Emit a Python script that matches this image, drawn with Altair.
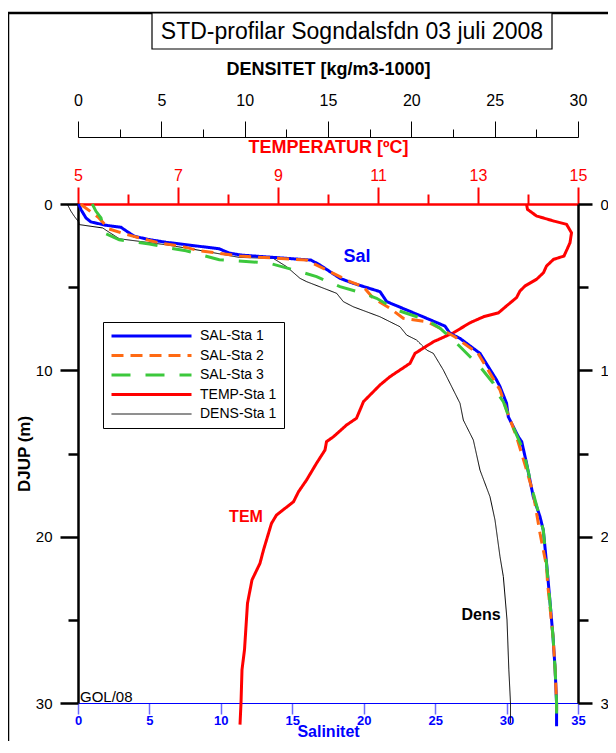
import altair as alt
import pandas as pd

FONT = "Liberation Sans"

# ---------------- data ----------------
SERIES = ["SAL-Sta 1", "SAL-Sta 2", "SAL-Sta 3", "TEMP-Sta 1", "DENS-Sta 1"]
COLORS = ["#0000ff", "#ff6a13", "#3cc83c", "#ff0000", "#000000"]
DASHES = [[1, 0], [12, 7], [19, 15], [1, 0], [1, 0]]
WIDTHS = [3, 3, 3, 3, 1]

sal_ticks = [0, 5, 10, 15, 20, 25, 30, 35]
temp_major = [5, 7, 9, 11, 13, 15]
temp_minor = [6, 8, 10, 12, 14]
dens_major = [0, 5, 10, 15, 20, 25, 30]
dens_minor = [2.5, 7.5, 12.5, 17.5, 22.5, 27.5]
depth_major = [0, 10, 20, 30]
depth_minor = [5, 15, 25]

sal1_depth = [0.0, 0.34, 0.84, 1.08, 1.28, 1.4, 1.54, 1.94, 2.14, 2.3, 2.69, 2.95, 3.07, 3.37, 3.67,
              4.47, 4.77, 5.27, 5.87, 6.37, 6.87, 7.34, 7.78, 8.08, 8.98, 10.58, 10.98, 11.98, 12.79,
              13.39, 13.99, 14.29, 15.59, 17.6, 18.8, 19.6, 21.6, 24.0, 26.0, 28.0, 30.0, 31.4]
sal1_value = [0.05, 0.21, 0.56, 0.91, 1.96, 3.01, 3.24, 3.94, 4.99, 6.16, 9.88, 10.58, 11.4, 16.3, 16.94,
              18.34, 19.27, 21.14, 21.61, 23.0, 24.4, 25.69, 26.04, 26.74, 28.14, 29.3, 29.54, 30.0, 30.12,
              30.47, 30.82, 31.06, 31.4, 31.87, 32.34, 32.57, 32.8, 33.05, 33.25, 33.4, 33.5, 33.5]

sal2_depth = [0.0, 0.12, 0.78, 1.5, 1.79, 2.09, 2.35, 2.53, 2.81, 3.13, 3.37, 4.17, 4.67, 4.97, 5.67,
              6.27, 6.87, 7.07, 7.47, 8.0, 8.98, 11.18, 12.39, 13.99, 16.0, 17.4, 19.8, 21.8, 22.8,
              26.0, 28.0, 30.0, 30.5]
sal2_value = [0.2, 0.35, 1.4, 2.17, 3.22, 4.55, 5.74, 7.21, 8.47, 11.34, 16.0, 17.87, 19.04, 19.97, 20.67,
              21.84, 22.77, 24.4, 25.34, 26.4, 28.0, 29.54, 30.0, 30.7, 31.4, 31.87, 32.34, 32.8, 32.87,
              33.25, 33.4, 33.5, 33.5]

sal3_depth = [0.0, 0.44, 0.84, 1.74, 2.15, 2.4, 2.65, 2.81, 3.08, 3.35, 3.45, 3.57, 4.07, 4.37, 4.97,
              5.37, 5.67, 6.37, 6.97, 7.47, 8.38, 9.78, 10.78, 11.18, 11.88, 12.99, 14.79, 17.4, 19.6,
              22.6, 26.0, 28.0, 30.0, 31.4]
sal3_value = [1.0, 1.26, 1.61, 1.84, 2.89, 5.0, 6.39, 7.56, 8.73, 9.89, 11.76, 13.44, 15.54, 16.7, 18.34,
              19.97, 20.9, 22.3, 24.4, 25.34, 26.51, 28.14, 29.07, 29.2, 29.77, 30.24, 31.17, 31.87, 32.57,
              32.9, 33.25, 33.4, 33.5, 33.5]

temp_depth = [0.0, 0.32, 0.72, 1.02, 1.22, 1.73, 2.33, 3.13, 3.33, 3.73, 4.13, 4.53, 4.93, 5.23, 5.63,
              6.13, 6.54, 6.78, 7.14, 7.74, 8.28, 8.98, 9.58, 10.38, 10.88, 11.88, 12.88, 13.29, 13.99,
              14.29, 14.79, 15.59, 16.6, 17.3, 17.9, 18.7, 19.2, 20.8, 21.6, 22.6, 24.0, 26.8, 28.0,
              30.0, 31.3]
temp_value = [13.97, 13.99, 14.17, 14.51, 14.77, 14.87, 14.84, 14.72, 14.51, 14.37, 14.31, 14.17, 13.94,
              13.84, 13.77, 13.57, 13.41, 13.11, 12.84, 12.51, 12.11, 11.74, 11.64, 11.24, 11.04, 10.71,
              10.57, 10.37, 10.11, 9.97, 9.94, 9.77, 9.57, 9.41, 9.31, 8.97, 8.87, 8.71, 8.64, 8.48, 8.39,
              8.33, 8.28, 8.26, 8.24]

dens_depth = [0.0, 0.44, 0.74, 1.08, 1.24, 1.44, 1.64, 2.09, 2.45, 2.85, 3.21, 3.27, 3.77, 4.47, 4.67,
              5.37, 5.87, 6.18, 6.78, 7.38, 7.88, 8.18, 8.78, 8.98, 9.98, 11.18, 11.98, 12.99, 14.19,
              16.0, 17.6, 19.0, 21.2, 22.4, 25.0, 28.0, 30.0, 31.2]
dens_value = [-0.65, -0.42, -0.22, 0.04, 0.08, 1.48, 1.78, 2.48, 5.28, 7.68, 9.68, 11.72, 12.52, 13.32,
              13.72, 15.52, 15.92, 16.52, 18.12, 19.32, 19.72, 20.32, 20.92, 21.32, 21.92, 22.52, 22.92,
              23.12, 23.72, 24.12, 24.72, 25.02, 25.32, 25.52, 25.74, 25.85, 25.95, 25.95]


def long(name, depth, value):
    return pd.DataFrame({"series": name, "depth": depth, "value": value})


sal_df = pd.concat([long(SERIES[0], sal1_depth, sal1_value),
                    long(SERIES[1], sal2_depth, sal2_value),
                    long(SERIES[2], sal3_depth, sal3_value)], ignore_index=True)
temp_df = long(SERIES[3], temp_depth, temp_value)
dens_df = long(SERIES[4], dens_depth, dens_value)

# ---------------- encodings ----------------
LEG = alt.Legend(title=None, orient="none", legendX=25, legendY=118, symbolType="stroke",
                 symbolSize=6400, clipHeight=14, rowPadding=5.5, padding=7, labelOffset=7,
                 labelFont=FONT, labelFontSize=14, labelColor="black", strokeColor="black",
                 fillColor="white", labelLimit=300)

color = alt.Color("series:N", scale=alt.Scale(domain=SERIES, range=COLORS), legend=LEG)
dash = alt.StrokeDash("series:N", scale=alt.Scale(domain=SERIES, range=DASHES), legend=LEG)
width = alt.StrokeWidth("series:N",
                        scale=alt.Scale(type="ordinal", domain=SERIES, range=WIDTHS), legend=LEG)
order = alt.Order("depth:Q")


def ydepth(axis):
    return alt.Y("depth:Q", scale=alt.Scale(domain=[0, 30], reverse=True, nice=False, zero=False),
                 axis=axis)


def xs(domain, axis):
    return alt.X("value:Q", scale=alt.Scale(domain=domain, nice=False, zero=False), axis=axis)


sal_axis = alt.Axis(orient="bottom", values=sal_ticks, domainColor="#0000ff", domainWidth=1,
                    tickColor="#6a6aff", tickWidth=1.5, tickSize=11, labelColor="#0000ff",
                    labelFontSize=13, labelFontWeight="bold", labelPadding=0, labelFlush=False,
                    labelOverlap=False, title="Salinitet", titleColor="#0000ff", titleFontSize=16,
                    titleFontWeight="bold", titlePadding=-4, grid=False)
temp_axis = alt.Axis(orient="top", values=temp_major, domainColor="#ff0000", domainWidth=2.5,
                     tickColor="#ff0000", tickWidth=2, tickSize=17, labelColor="#ff0000",
                     labelFontSize=16, labelPadding=4, labelFlush=False, labelOverlap=False,
                     title="TEMPERATUR  [ºC]", titleColor="#ff0000", titleFontSize=18,
                     titleFontWeight="bold", titlePadding=10.5, grid=False)
temp_axis_minor = alt.Axis(orient="top", values=temp_minor, domain=False, labels=False,
                           tickColor="#ff0000", tickWidth=2, tickSize=10, title=None, grid=False)
dens_axis = alt.Axis(orient="top", offset=67, values=dens_major, domainColor="black", domainWidth=1,
                     tickColor="black", tickWidth=1, tickSize=16, labelColor="black",
                     labelFontSize=16, labelPadding=12.5, labelFlush=False, labelOverlap=False,
                     title="DENSITET [kg/m3-1000]", titleColor="black", titleFontSize=18,
                     titleFontWeight="bold", titlePadding=14.5, grid=False)
dens_axis_minor = alt.Axis(orient="top", offset=67, values=dens_minor, domain=False, labels=False,
                           tickColor="black", tickWidth=1, tickSize=8, title=None, grid=False)
left_axis = alt.Axis(orient="left", values=depth_major, domainColor="black", domainWidth=2.5,
                     tickColor="black", tickWidth=2.5, tickSize=18, labelColor="black",
                     labelFontSize=15, labelPadding=8, labelFlush=False, labelOverlap=False,
                     title="DJUP  (m)", titleColor="black", titleFontSize=17, titleFontWeight="bold",
                     titlePadding=2, grid=False)
left_axis_minor = alt.Axis(orient="left", values=depth_minor, domain=False, labels=False,
                           tickColor="black", tickWidth=2.5, tickSize=10, title=None, grid=False)
right_axis = alt.Axis(orient="right", values=depth_major, domainColor="black", domainWidth=2.5,
                      tickColor="black", tickWidth=2.5, tickSize=14, labelColor="black",
                      labelFontSize=15, labelPadding=8, labelFlush=False, labelOverlap=False,
                      title=None, grid=False)
right_axis_minor = alt.Axis(orient="right", values=depth_minor, domain=False, labels=False,
                            tickColor="black", tickWidth=2.5, tickSize=10, title=None, grid=False)

# ---------------- layers ----------------
sal = alt.Chart(sal_df).mark_line().encode(
    x=xs([0, 35], sal_axis), y=ydepth(left_axis), color=color, strokeDash=dash,
    strokeWidth=width, order=order)
temp = alt.Chart(temp_df).mark_line().encode(
    x=xs([5, 15], temp_axis), y=ydepth(right_axis), color=color, strokeDash=dash,
    strokeWidth=width, order=order)
dens = alt.Chart(dens_df).mark_line().encode(
    x=xs([0, 30], dens_axis), y=ydepth(left_axis_minor), color=color, strokeDash=dash,
    strokeWidth=width, order=order)
temp_m = alt.Chart(temp_df).mark_line(opacity=0).encode(
    x=xs([5, 15], temp_axis_minor), y=ydepth(right_axis_minor), order=order)
dens_m = alt.Chart(dens_df).mark_line(opacity=0).encode(
    x=xs([0, 30], dens_axis_minor), y=ydepth(None), order=order)

ONE = alt.Data(values=[{"k": 0}])


def label(text, x, y, **kw):
    return alt.Chart(ONE).mark_text(text=text, font=FONT, **kw).encode(
        x=alt.value(x), y=alt.value(y))


frame_top = alt.Chart(ONE).mark_rule(color="black", strokeWidth=2.5).encode(
    x=alt.value(-70), x2=alt.value(540), y=alt.value(-191))
frame_left = alt.Chart(ONE).mark_rule(color="black", strokeWidth=2.5).encode(
    x=alt.value(-70), y=alt.value(-191), y2=alt.value(560))
title_box = alt.Chart(ONE).mark_rect(fill="white", stroke="black", strokeWidth=1.2).encode(
    x=alt.value(74), x2=alt.value(474), y=alt.value(-191), y2=alt.value(-155))
title_txt = label("STD-profilar Sogndalsfdn 03 juli 2008", 274, -172, fontSize=23,
                  align="center", baseline="middle", color="black")

sal_lbl = label("Sal", 279, 53, fontSize=18, fontWeight="bold", color="#0000ff",
                align="center", baseline="middle")
tem_lbl = label("TEM", 168, 313, fontSize=16, fontWeight="bold", color="#ff0000",
                align="center", baseline="middle")
dens_lbl = label("Dens", 403, 411, fontSize=16, fontWeight="bold", color="black",
                 align="center", baseline="middle")
gol_lbl = label("GOL/08", 2, 498, fontSize=15, color="black", align="left",
                baseline="alphabetic")

chart = alt.layer(
    frame_top, frame_left, title_box, title_txt,
    dens_m, temp_m, dens, temp, sal,
    sal_lbl, tem_lbl, dens_lbl, gol_lbl,
).resolve_scale(
    x="independent", y="independent"
).properties(
    width=500, height=499,
    autosize=alt.AutoSizeParams(type="none"),
    padding={"left": 70, "top": 196, "right": 30, "bottom": 38},
).configure_view(stroke=None).configure_axis(
    labelFont=FONT, titleFont=FONT, grid=False
).configure_legend(labelFont=FONT)

chart.save("out.html", embed_options={"renderer": "svg", "actions": False})
